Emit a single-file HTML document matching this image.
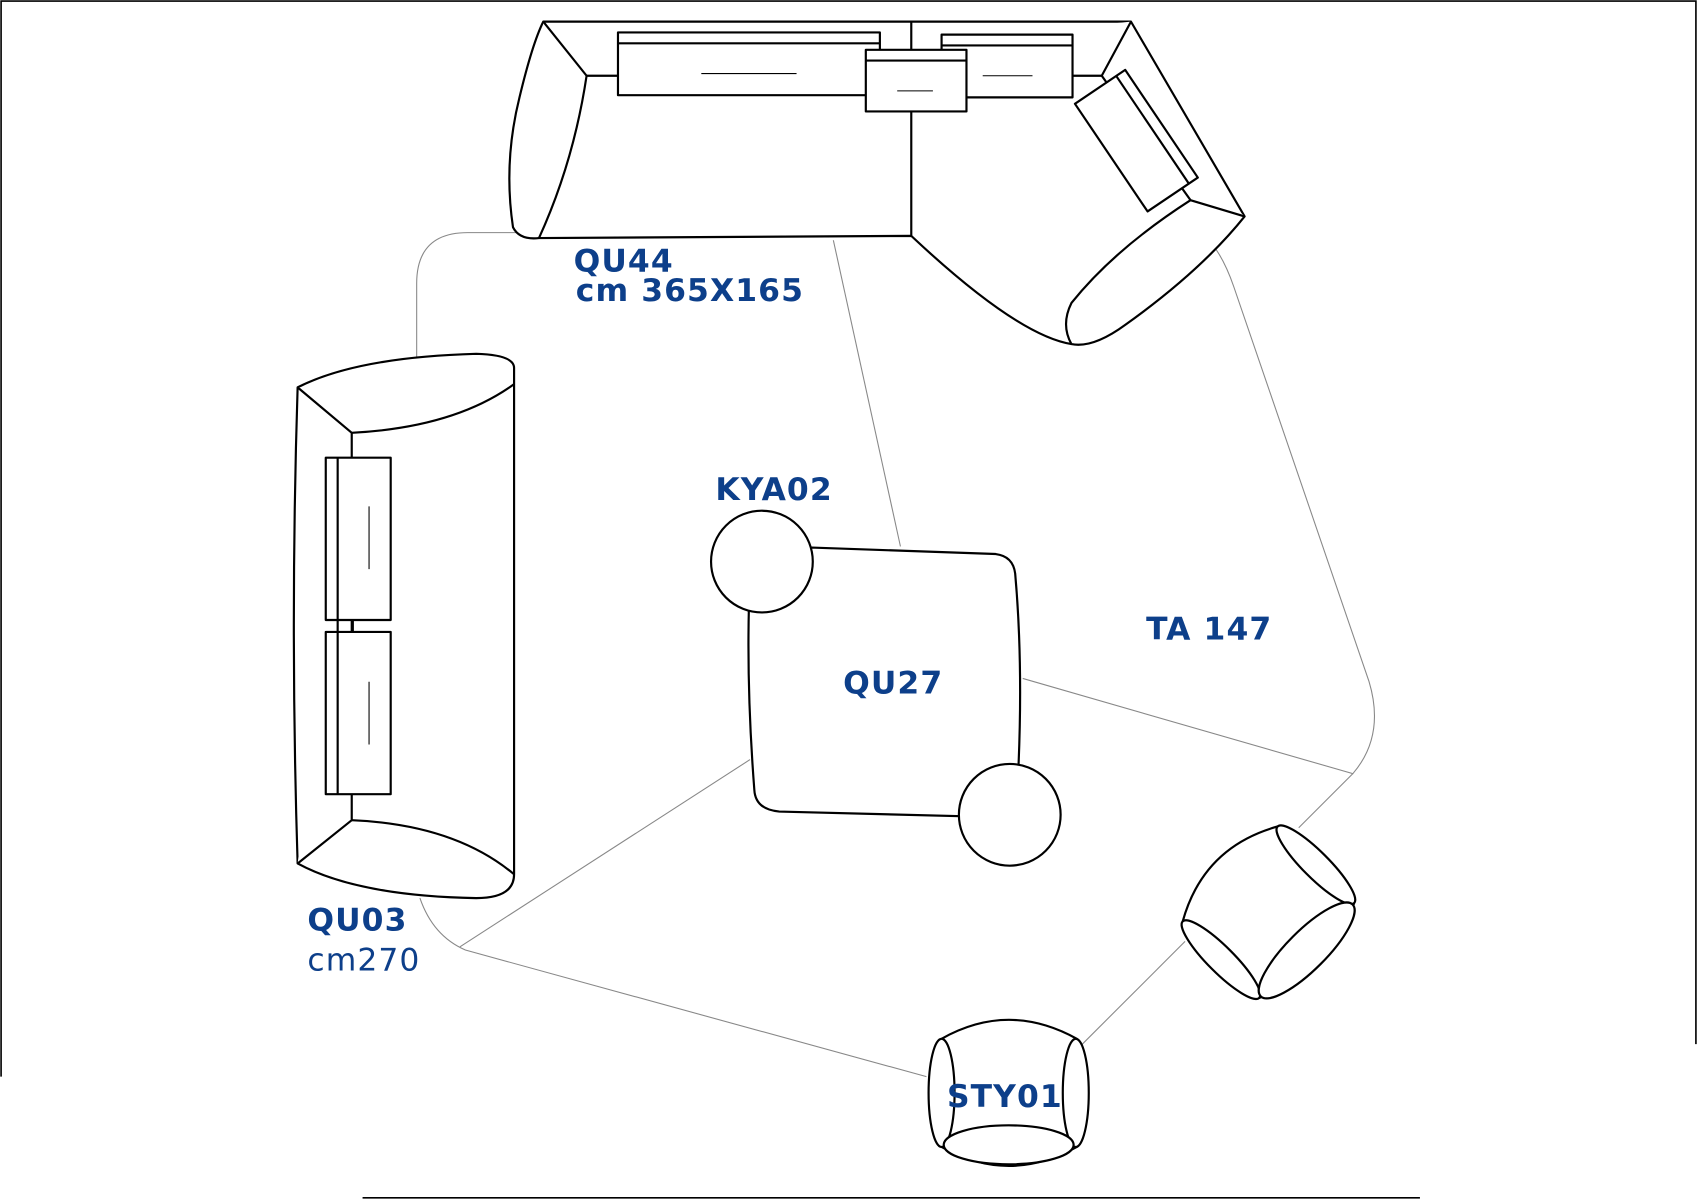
<!DOCTYPE html>
<html><head><meta charset="utf-8"><style>
html,body{margin:0;padding:0;background:#fff;}
svg{display:block;}
text{font-family:"DejaVu Sans","Liberation Sans",sans-serif;fill:#0d3f8a;font-weight:bold;font-size:29px;letter-spacing:1px;}
</style></head><body>
<svg width="1697" height="1200" viewBox="0 0 1568 1109" preserveAspectRatio="none" xmlns="http://www.w3.org/2000/svg">
<g fill="none" stroke="#000" stroke-width="1.5">
<path d="M1,995 V1 H1567 V965"/>
<path d="M335,1107 H1312"/>
</g>
<g fill="none" stroke="#888" stroke-width="1">
<path d="M385,330 V262 Q385,215 432,215 H480"/>
<path d="M770,222 L832,505"/>
<path d="M842,215 H1110 Q1128,230 1140,265 L1265,630 Q1280,680 1250,715 L945,627"/>
<path d="M1250,715 L1200,765"/>
<path d="M1095,870 L1000,965"/>
<path d="M856,995 L430,878 Q400,865 388,830"/>
<path d="M425,875 L693,702"/>
</g>
<g fill="#fff" stroke="#000" stroke-width="2" stroke-linejoin="round">
<path d="M502,20 H1045 L1150,200 Q1110,250 1040,300 Q1010,322 990,318 Q940,310 842,218 L498,220 Q480,222 474,210 Q465,150 480,90 Q492,40 502,20 Z"/>
<path d="M502,20 L542,70 Q530,150 498,220" />
<path d="M542,70 H1018 L1045,20" />
<path d="M842,20 V218" />
<path d="M1018,70 L1100,185 L1150,200" />
<path d="M1100,185 Q1030,230 990,280 Q980,300 990,318" />
<rect x="571" y="30" width="242" height="58"/>
<path d="M571,40 H813"/>
<rect x="870" y="32" width="121" height="58"/>
<path d="M870,42 H991"/>
<rect x="800" y="46" width="93" height="57"/>
<path d="M800,56 H893"/>
<g transform="translate(1050,130) rotate(-34)">
<rect x="-28" y="-60" width="56" height="120"/>
<path d="M18,-60 V60"/>
</g>
<path d="M275,358 Q330,330 440,327 Q475,328 475,340 V808 Q475,830 440,830 Q330,828 275,798 Q268,578 275,358 Z"/>
<path d="M275,358 L325,400 Q420,395 475,355"/>
<path d="M325,400 V758 L275,798"/>
<path d="M325,758 Q420,762 475,808"/>
<rect x="301" y="423" width="60" height="150"/>
<path d="M312,423 V573"/>
<rect x="301" y="584" width="60" height="150"/>
<path d="M312,584 V734"/>
<path d="M312,573 V584 M326,573 V584" />
<path d="M750,506 L920,512 Q936,514 938,530 Q946,620 940,730 Q938,755 915,755 L720,750 Q698,748 697,730 Q690,640 692,560 Q692,510 750,506 Z"/>
<circle cx="704" cy="519" r="47"/>
<circle cx="933" cy="753" r="47"/>
<path d="M870,960 Q932,925 995,960 Q1012,1010 995,1060 Q932,1095 870,1060 Q852,1010 870,960 Z"/>
<ellipse cx="870" cy="1010" rx="12" ry="50"/>
<ellipse cx="994" cy="1010" rx="12" ry="50"/>
<ellipse cx="932" cy="1058" rx="60" ry="18"/>
<g transform="translate(1172,843) rotate(-45)">
<path d="M-62,-50 Q0,-85 62,-50 Q80,0 62,50 Q0,85 -62,50 Q-80,0 -62,-50 Z"/>
<ellipse cx="-62" cy="0" rx="12" ry="50"/>
<ellipse cx="62" cy="0" rx="12" ry="50"/>
<ellipse cx="0" cy="50" rx="60" ry="18"/>
</g>
</g>
<g stroke="#000" stroke-width="1" fill="none">
<path d="M648,68 H736 M829,84 H862 M908,70 H954 M341,468 V526 M341,630 V688"/>
</g>
<text x="530" y="251">QU44</text>
<text x="532" y="278">cm 365X165</text>
<text x="661" y="462">KYA02</text>
<text x="779" y="641">QU27</text>
<text x="1059" y="591">TA 147</text>
<text x="284" y="860">QU03</text>
<text x="284" y="897" style="font-weight:normal">cm270</text>
<text x="875" y="1023">STY01</text>
</svg>
</body></html>
